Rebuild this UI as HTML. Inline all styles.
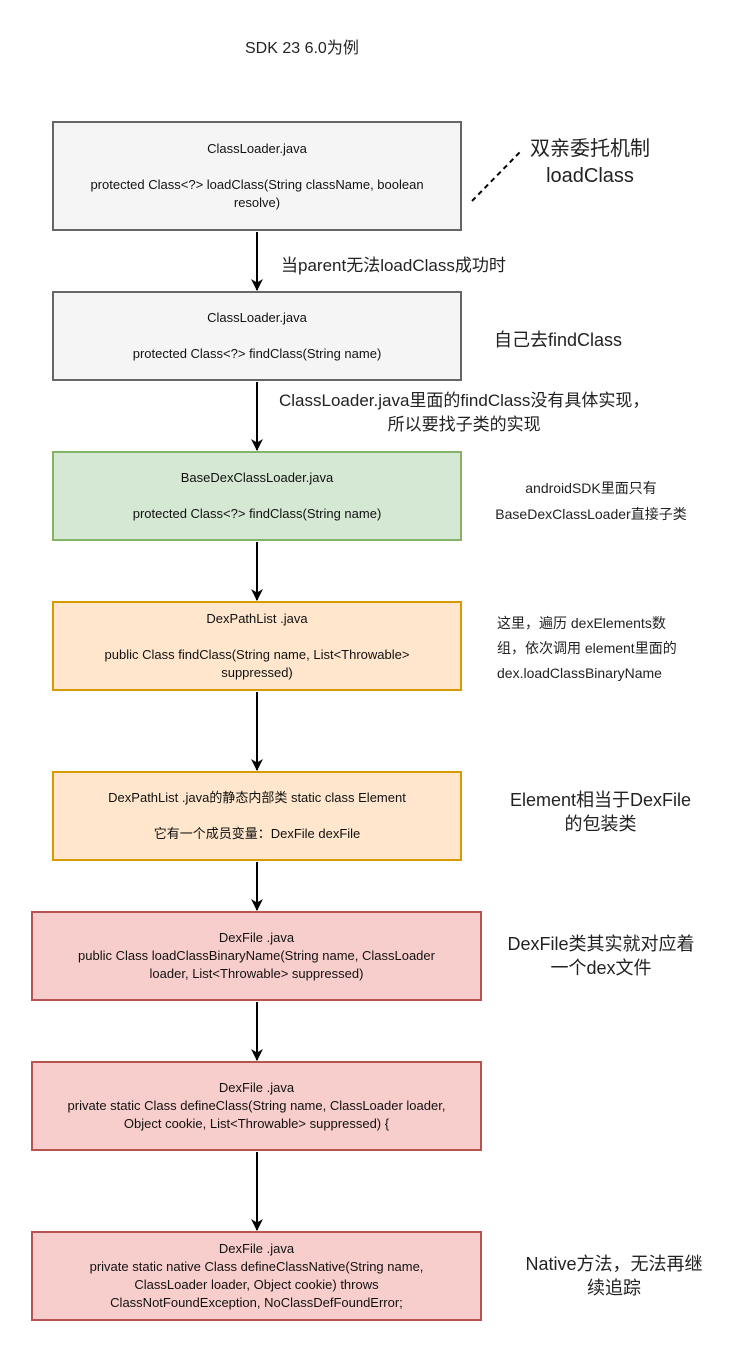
<!DOCTYPE html>
<html><head><meta charset="utf-8"><style>
body{margin:0;width:752px;height:1352px;background:#fff;position:relative;overflow:hidden;font-family:"Liberation Sans","Noto Sans CJK SC",sans-serif;color:#111}
.b{position:absolute;box-sizing:border-box;border:2px solid #666;background:#f5f5f5;display:flex;flex-direction:column;justify-content:center;align-items:center;text-align:center;font-size:13px;line-height:18px;padding:0 4px;white-space:nowrap}
.g{background:#d5e8d4;border-color:#82b366}
.o{background:#ffe6cc;border-color:#d79b00}
.r{background:#f8cecc;border-color:#b85450}
.t{position:absolute;white-space:nowrap;color:#222}
.c{text-align:center}
</style></head><body>
<div class="t" style="left:245px;top:34px;font-size:16px">SDK 23 6.0为例</div>

<div class="b" style="left:52px;top:121px;width:410px;height:110px"><div>ClassLoader.java</div><div style="height:18px"></div><div>protected Class&lt;?&gt; loadClass(String className, boolean<br>resolve)</div></div>
<div class="b" style="left:52px;top:291px;width:410px;height:90px"><div>ClassLoader.java</div><div style="height:18px"></div><div>protected Class&lt;?&gt; findClass(String name)</div></div>
<div class="b g" style="left:52px;top:451px;width:410px;height:90px"><div>BaseDexClassLoader.java</div><div style="height:18px"></div><div>protected Class&lt;?&gt; findClass(String name)</div></div>
<div class="b o" style="left:52px;top:601px;width:410px;height:90px"><div>DexPathList .java</div><div style="height:18px"></div><div>public Class findClass(String name, List&lt;Throwable&gt;<br>suppressed)</div></div>
<div class="b o" style="left:52px;top:771px;width:410px;height:90px"><div>DexPathList .java的静态内部类 static class Element</div><div style="height:18px"></div><div>它有一个成员变量：DexFile dexFile</div></div>
<div class="b r" style="left:31px;top:911px;width:451px;height:90px"><div>DexFile .java</div><div>public Class loadClassBinaryName(String name, ClassLoader<br>loader, List&lt;Throwable&gt; suppressed)</div></div>
<div class="b r" style="left:31px;top:1061px;width:451px;height:90px"><div>DexFile .java</div><div>private static Class defineClass(String name, ClassLoader loader,<br>Object cookie, List&lt;Throwable&gt; suppressed) {</div></div>
<div class="b r" style="left:31px;top:1231px;width:451px;height:90px"><div>DexFile .java</div><div>private static native Class defineClassNative(String name,<br>ClassLoader loader, Object cookie) throws<br>ClassNotFoundException, NoClassDefFoundError;</div></div>

<svg width="752" height="1352" style="position:absolute;left:0;top:0">
<defs><marker id="a" markerWidth="12" markerHeight="12" refX="11" refY="6" orient="auto" markerUnits="userSpaceOnUse"><path d="M0,0 L12,6 L0,12 L3.5,6 z" fill="#000"/></marker></defs>
<g stroke="#000" stroke-width="2" marker-end="url(#a)">
<line x1="257" y1="232" x2="257" y2="290"/>
<line x1="257" y1="382" x2="257" y2="450"/>
<line x1="257" y1="542" x2="257" y2="600"/>
<line x1="257" y1="692" x2="257" y2="770"/>
<line x1="257" y1="862" x2="257" y2="910"/>
<line x1="257" y1="1002" x2="257" y2="1060"/>
<line x1="257" y1="1152" x2="257" y2="1230"/>
</g>
<line x1="472" y1="201" x2="520" y2="152" stroke="#000" stroke-width="2" stroke-dasharray="5,4"/>
</svg>

<div class="t c" style="left:530px;top:136px;font-size:20px;line-height:27px">双亲委托机制<br>loadClass</div>
<div class="t" style="left:281px;top:251px;font-size:17px">当parent无法loadClass成功时</div>
<div class="t" style="left:494px;top:326px;font-size:18px">自己去findClass</div>
<div class="t c" style="left:279px;top:389px;font-size:17px;line-height:24px">ClassLoader.java里面的findClass没有具体实现，<br>所以要找子类的实现</div>
<div class="t c" style="left:480px;top:475px;font-size:14px;line-height:26px;width:222px">androidSDK里面只有<br>BaseDexClassLoader直接子类</div>
<div class="t" style="left:497px;top:611px;font-size:14px;line-height:25px">这里，遍历 dexElements数<br>组，依次调用 element里面的<br>dex.loadClassBinaryName</div>
<div class="t c" style="left:498px;top:788px;font-size:18px;line-height:24px;width:205px">Element相当于DexFile<br>的包装类</div>
<div class="t c" style="left:498px;top:932px;font-size:18px;line-height:24px;width:206px">DexFile类其实就对应着<br>一个dex文件</div>
<div class="t c" style="left:516px;top:1252px;font-size:18px;line-height:24px;width:196px">Native方法，无法再继<br>续追踪</div>
</body></html>
